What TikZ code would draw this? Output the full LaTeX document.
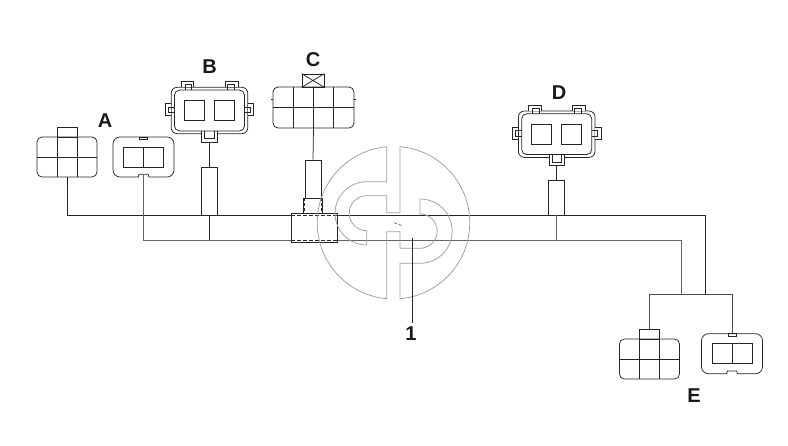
\documentclass[tikz,border=0pt]{standalone}
\usepackage{fontspec}
\setmainfont{Liberation Sans}
\begin{document}
\begin{tikzpicture}[x=1pt, y=-1pt, line width=0.75pt, draw=black!85,
          letter/.style={inner sep=4pt, font=\bfseries\fontsize{20}{20}\selectfont, text=black!90},
          box/.style={shape=rectangle, draw, inner sep=0pt, minimum width=#1},
          sleeve/.style={box=16pt, fill=white},
          cell/.style={box=20pt, minimum height=20pt},
          gridplug/.pic={
            \node[box=60pt, minimum height=40pt, rounded corners=5pt] (-body) at (0,0) {};
            \node[box=20pt, minimum height=10pt] (-tab) at (0,-25) {};
            \draw (-10,-20) -- (-10,20) (10,-20) -- (10,20) (-30,0) -- (30,0);
          },
          flatplug/.pic={
            \node[box=61pt, minimum height=40pt, rounded corners=7pt] (-body) at (0,0) {};
            \node[cell] (-left) at (-10,0) {};
            \node[cell] (-right) at (10,0) {};
            \node[box=8pt, minimum height=2.5pt] (-top) at (0,-18.7) {};
            \coordinate (-port) at (0,17.3);
            \fill[white] (-5,19) rectangle (5,21);
            \draw (-5.5,20) -- (-4.5,17.3) -- (4.5,17.3) -- (5.5,20);
          },
          socket/.pic={
            \node[box=76.6pt, minimum height=46.4pt, rounded corners=6pt] (-body) at (0,0) {};
            \foreach \sx in {-1,1} {
              \draw[fill=white] (\sx*15.7,-23.2) -- (\sx*15.7,-29.2) -- (\sx*28.4,-29.2) -- (\sx*28.4,-23.2);
              \draw[fill=white] (\sx*38.3,-6.9) -- (\sx*44.3,-6.9) -- (\sx*44.3,5.1) -- (\sx*38.3,5.1);
            }
            \node[box=15.6pt, minimum height=11.5pt, fill=white] (-tail) at (0,25.7) {};
            \node[box=70pt, minimum height=40.8pt, rounded corners=5pt, fill=white] (-inner) at (0,0) {};
            \foreach \sx in {-1,1} {
              \draw (\sx*17.7,-20.4) -- (\sx*17.7,-26) -- (\sx*24.4,-26) -- (\sx*24.4,-20.4);
              \draw (\sx*35,-3.5) -- (\sx*41,-3.5) -- (\sx*41,1.8) -- (\sx*35,1.8);
            }
            \draw (-4.7,20.4) -- (-4.7,27.8) -- (4.7,27.8) -- (4.7,20.4);
            \node[cell] (-left) at (-15,0) {};
            \node[cell] (-right) at (15,0) {};
          }]
          \useasboundingbox (0,0) rectangle (788,445);
          \coordinate (trunkTL) at (67,215);
          \coordinate (trunkTR) at (705.5,215);
          \coordinate (trunkBL) at (143.5,240);
          \coordinate (trunkBR) at (681.5,240);
          \coordinate (forkR) at (705.5,294.5);
          \coordinate (forkL) at (681.5,294.5);
          \coordinate (leaderTip) at (412.7,238);

          \pic (plugAL) at (67,157) {gridplug};
          \pic (plugAR) at (143.5,157) {flatplug};
          \pic (plugB) at (209.5,110.5) {socket};
          \pic (plugD) at (556.7,134.2) {socket};
          \pic (plugEL) at (649.5,359) {gridplug};
          \pic (plugER) at (732,353.7) {flatplug};

          \node[box=81pt, minimum height=41pt, rounded corners=5pt] (plugC) at (313.5,107.5) {};
          \node[box=22pt, minimum height=13pt] (capC) at (313,80.5) {};
          \draw (capC.north west) -- (capC.south east) (capC.north east) -- (capC.south west);
          \draw (293,87) -- (293,128) (313,87) -- (313,128) (333.5,87) -- (333.5,128) (273,107.7) -- (354,107.7);
          \draw (plugC.west) ++(0,-8.5) -- ++(-2,0) (plugC.east) ++(0,-8.5) -- ++(2,0);

          \node[sleeve, minimum height=48pt] (sleeveB) at (209.5,191) {};
          \node[sleeve, minimum height=38pt] (sleeveC) at (313,179) {};
          \node[sleeve, minimum height=35pt] (sleeveD) at (556.7,197.5) {};

          \draw (plugAL-body.south) -- (trunkTL) -- (trunkTR) -- (forkR);
          \draw[black!60] (plugAR-port) -- (trunkBL) -- (trunkBR) -- (forkL);
          \draw (plugB-tail.south) -- (sleeveB.north);
          \draw (plugC.south) -- (sleeveC.north);
          \draw (plugD-tail.south) -- (sleeveD.north);
          \draw (sleeveB.south) -- (sleeveB.south |- trunkBL);
          \draw[black!60] (sleeveD.south) -- (sleeveD.south |- trunkBL);
          \draw[black!70] (plugEL-tab.north) |- (forkR) -| (plugER-top.north);

          \node[box=46pt, minimum height=29pt, fill=white] (clampC) at (314,227.5) {};
          \node[box=19pt, minimum height=15pt, fill=white] (bandC) at (312.5,205.5) {};
          \draw[dashed, dash pattern=on 4pt off 2pt] (clampC.west |- trunkTL) -- (clampC.east |- trunkTL);
          \draw[dashed, dash pattern=on 4pt off 2pt] (clampC.west |- trunkBL) -- (clampC.east |- trunkBL);
          \draw[dashed, dash pattern=on 3pt off 2pt] (sleeveC.south west) -- (sleeveC.south west |- clampC.north);
          \draw[dashed, dash pattern=on 3pt off 2pt] (sleeveC.south east) -- (sleeveC.south east |- clampC.north);

          \draw[black!38] (386.7,146.7) -- (386.7,181.7) -- (366.7,181.7)
            arc[start angle=270, end angle=90, radius=31.65] -- (366.7,230.7)
            arc[start angle=90, end angle=270, radius=17.5] -- (386.7,195.7) -- (386.7,212.7) -- (400,212.7) -- (400,146.7)
            arc[start angle=-85.1, end angle=85.1, radius=76.28] -- (400,263.3) -- (420,263.3)
            arc[start angle=90, end angle=-90, radius=32.15] -- (420,214)
            arc[start angle=-90, end angle=90, radius=17.15] -- (400,248.3) -- (400,231.7) -- (386.7,231.7) -- (386.7,298.7)
            arc[start angle=95.1, end angle=264.9, radius=76.28] -- cycle;
          \draw[black!60, dash pattern=on 3pt off 2pt] (394,222.7) -- (403,226);

          \node[letter] (labelA) at (105,121) {A};
          \node[letter] (labelB) at (209.5,67) {B};
          \node[letter] (labelC) at (313,60) {C};
          \node[letter] (labelD) at (559,93) {D};
          \node[letter] (labelE) at (694,396) {E};
          \node[letter] (labelOne) at (411,334) {1};
          \draw (leaderTip) -- (leaderTip |- labelOne.north);
\end{tikzpicture}
\end{document}
